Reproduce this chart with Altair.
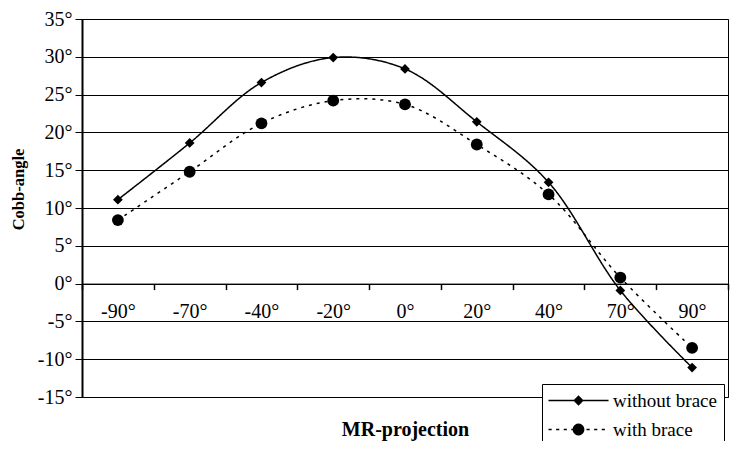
import math
import altair as alt
import pandas as pd

# ---- data ----
projections = ["-90°", "-70°", "-40°", "-20°", "0°", "20°", "40°", "70°", "90°"]
without_brace = [11.1, 18.6, 26.6, 29.9, 28.4, 21.4, 13.4, -0.9, -11.1]
with_brace = [8.4, 14.8, 21.2, 24.2, 23.7, 18.4, 11.8, 0.8, -8.5]
series_names = ["without brace", "with brace"]
y_ticks = [-15, -10, -5, 0, 5, 10, 15, 20, 25, 30, 35]

rows = []
for name, vals in zip(series_names, [without_brace, with_brace]):
    for p, v in zip(projections, vals):
        rows.append({"projection": p, "angle": v, "series": name})
df = pd.DataFrame(rows)

# ---- style ----
FONT = "Liberation Serif"
FS = 20
W, H = 646, 378
PAD_TOP = 11
Y_MIN, Y_MAX = -15, 35
x_axis_offset = -H * (0 - Y_MIN) / (Y_MAX - Y_MIN)

# legend symbol paths (unit = sqrt(size)/2 = 8 px); lines drawn as thin filled bars
HALF = 3.75
T = 0.085
solid_part = f"M{-HALF},{-T}L{HALF},{-T}L{HALF},{T}L{-HALF},{T}Z"
dash_parts = []
x0 = -HALF
while x0 < HALF:
    x1 = min(x0 + 0.4, HALF)
    dash_parts.append(f"M{x0:.3f},{-T}L{x1:.3f},{-T}L{x1:.3f},{T}L{x0:.3f},{T}Z")
    x0 += 0.95
dashed_part = "".join(dash_parts)
diamond_part = "M0,-0.65L0.65,0L0,0.65L-0.65,0Z"
circ = []
for i in range(20):
    a = 2 * math.pi * i / 20
    circ.append(f"{0.74*math.cos(a):.3f},{0.74*math.sin(a):.3f}")
circle_part = "M" + "L".join(circ) + "Z"
P1 = solid_part + diamond_part
P2 = dashed_part + circle_part

x_enc = alt.X(
    "projection:N",
    sort=projections,
    scale=alt.Scale(type="band", paddingInner=0, paddingOuter=0),
    axis=alt.Axis(
        title="MR-projection", orient="bottom", offset=x_axis_offset,
        tickBand="extent", grid=False, domainColor="black", domainWidth=1,
        tickColor="black", tickWidth=1.5, tickSize=6,
        labelFont=FONT, labelFontSize=FS, labelColor="black", labelPadding=12,
        labelAngle=0,
        titleFont=FONT, titleFontSize=20, titleFontWeight="bold", titleColor="black",
        titleX=W / 2, titleY=146, titleBaseline="middle", titleAlign="center",
    ),
)
y_enc = alt.Y(
    "angle:Q",
    scale=alt.Scale(domain=[Y_MIN, Y_MAX], nice=False, zero=False),
    axis=alt.Axis(
        values=y_ticks, labelExpr="datum.value + '°'", title="Cobb-angle",
        grid=True, gridColor="black", gridWidth=1,
        domainColor="black", domainWidth=2, tickColor="black", tickSize=7, tickWidth=1,
        labelFont=FONT, labelFontSize=FS, labelColor="black", labelPadding=3,
        titleFont=FONT, titleFontSize=16.5, titleFontWeight="bold", titleColor="black",
        titleX=-64, titleY=170, titleAngle=270, titleBaseline="middle", titleAlign="center",
    ),
)

lines = alt.Chart(df).mark_line(interpolate="catmull-rom", color="black", strokeWidth=1.5).encode(
    x=x_enc, y=y_enc,
    strokeDash=alt.StrokeDash("series:N", scale=alt.Scale(domain=series_names, range=[[1, 0], [3, 5]]), legend=None),
    detail="series:N",
)

points = alt.Chart(df).mark_point(filled=True, color="black", opacity=1).encode(
    x=x_enc, y=y_enc,
    shape=alt.Shape("series:N", scale=alt.Scale(domain=series_names, range=["diamond", "circle"]), legend=None),
    size=alt.Size("series:N", scale=alt.Scale(domain=series_names, range=[95, 140]), legend=None),
)

legend = alt.Legend(
    title=None, orient="none", legendX=460, legendY=365, direction="vertical",
    strokeColor="black", fillColor="white", padding=7, cornerRadius=0,
    labelFont=FONT, labelFontSize=19, labelColor="black", labelOffset=25,
    symbolSize=256, symbolOffset=20, rowPadding=9,
    symbolFillColor="black", symbolStrokeWidth=0, symbolOpacity=1,
)

# legend-only layer (no rows drawn; legend is built from the explicit scale domain)
legend_layer = alt.Chart(df).transform_filter("false").mark_point(
    filled=True, color="black", opacity=1
).encode(
    x=x_enc, y=y_enc,
    shape=alt.Shape("series:N", scale=alt.Scale(domain=series_names, range=[P1, P2]), legend=legend),
)

chart = (
    alt.layer(lines, points, legend_layer)
    .resolve_scale(shape="independent", strokeDash="independent")
    .properties(
        width=W, height=H,
        autosize=alt.AutoSizeParams(type="none"),
        padding={"left": 74, "top": PAD_TOP, "right": 2, "bottom": 44},
        background="white",
    )
    .configure_view(stroke="black", strokeWidth=1)
)

chart.save("out.html", embed_options={"renderer": "svg", "actions": False})
